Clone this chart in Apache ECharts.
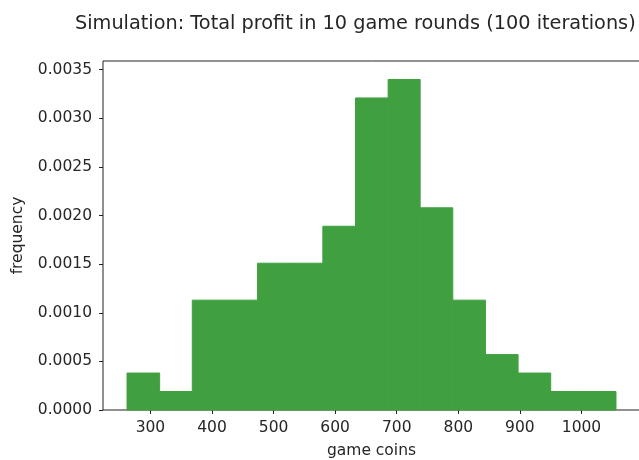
<!DOCTYPE html>
<html>
<head>
<meta charset="utf-8">
<script src="https://cdn.jsdelivr.net/npm/echarts@6/dist/echarts.min.js"></script>
<style>
  html, body { margin: 0; padding: 0; background: #fff; }
  #main { width: 639px; height: 460px; }
</style>
</head>
<body>
<div id="main"></div>
<script>
// histogram bin edges (game coins), 15 bins
const binEdges = [262, 315, 368, 421, 474, 527, 580, 633, 686, 738, 791, 844, 897, 950, 1003, 1056];
// density per bin
const frequency = [0.00038, 0.00019, 0.00113, 0.00113, 0.00151, 0.00151, 0.00189, 0.00321, 0.00340, 0.00208, 0.00113, 0.00057, 0.00038, 0.00019, 0.00019];
// tick labels
const xTicks = [300, 400, 500, 600, 700, 800, 900, 1000];
const yTicks = [0, 0.0005, 0.001, 0.0015, 0.002, 0.0025, 0.003, 0.0035];

const font = "DejaVu Sans";
const textColor = "#262626";

let bins = [];
for (let i = 0; i < frequency.length; i++) {
  bins.push([binEdges[i], binEdges[i + 1], frequency[i]]);
}

let myEcharts = echarts.init(document.getElementById("main"));
let option = {
  animation: false,
  title: {
    text: "Simulation: Total profit in 10 game rounds (100 iterations)",
    left: 75,
    top: 14,
    padding: 0,
    textStyle: { fontFamily: font, fontSize: 19.3, fontWeight: "normal", color: textColor }
  },
  grid: {
    left: 103,
    top: 61,
    width: 537,
    height: 349,
    outerBoundsMode: "none",
    show: true,
    borderColor: "#222",
    borderWidth: 1,
    backgroundColor: "transparent"
  },
  xAxis: {
    type: "value",
    min: 223,
    max: 1095,
    name: "game coins",
    nameLocation: "middle",
    nameGap: 33,
    nameTextStyle: { fontFamily: font, fontSize: 15.5, color: textColor },
    splitLine: { show: false },
    axisLine: { show: false },
    axisTick: { show: true, inside: false, length: 4, lineStyle: { color: "#222" }, customValues: xTicks },
    axisLabel: {
      fontFamily: font, fontSize: 15.5, color: textColor, margin: 10,
      customValues: xTicks,
      formatter: v => String(v)
    }
  },
  yAxis: {
    type: "value",
    min: 0,
    max: 0.00359,
    name: "frequency",
    nameLocation: "middle",
    nameGap: 77,
    nameTextStyle: { fontFamily: font, fontSize: 15.5, color: textColor },
    splitLine: { show: false },
    axisLine: { show: false },
    axisTick: { show: true, inside: false, length: 4, lineStyle: { color: "#222" }, customValues: yTicks },
    axisLabel: {
      fontFamily: font, fontSize: 15.5, color: textColor, margin: 11,
      customValues: yTicks,
      formatter: v => v.toFixed(4)
    }
  },
  series: [
    {
      type: "custom",
      data: bins,
      encode: { x: [0, 1], y: 2 },
      renderItem: function(params, api) {
        let p0 = api.coord([api.value(0), api.value(2)]);
        let p1 = api.coord([api.value(1), 0]);
        return {
          type: "rect",
          shape: { x: p0[0], y: p0[1], width: p1[0] - p0[0], height: p1[1] - p0[1] },
          style: { fill: "#40a040", stroke: "#40a040", lineWidth: 1 }
        };
      }
    }
  ]
};
myEcharts.setOption(option);
</script>
</body>
</html>
